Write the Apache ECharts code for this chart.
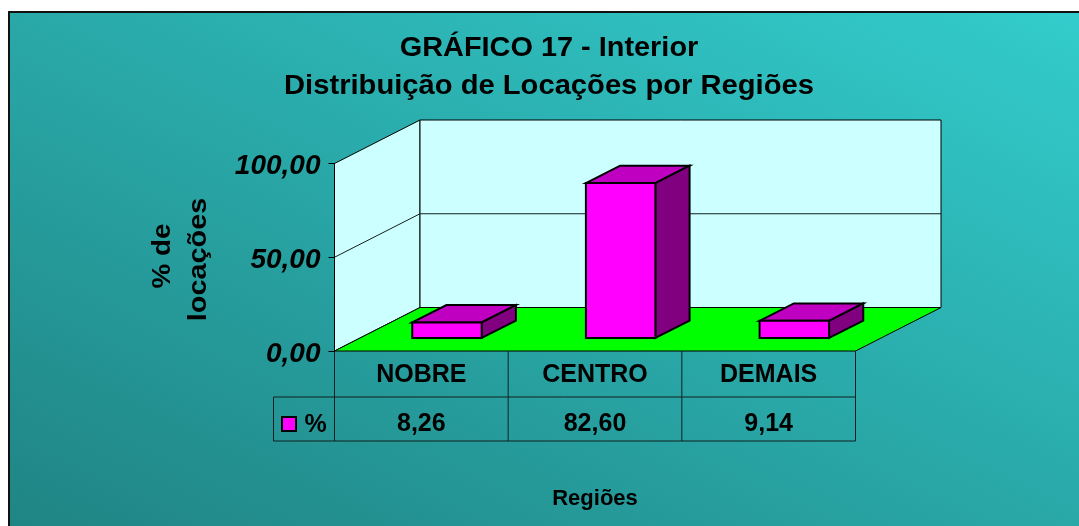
<!DOCTYPE html>
<html>
<head>
<meta charset="utf-8">
<title>GRÁFICO 17 - Interior</title>
<style>
	html, body { margin: 0; padding: 0; background: #fff; }
	#main { width: 1079px; height: 526px; }
</style>
<script src="https://cdn.jsdelivr.net/npm/echarts@6/dist/echarts.min.js"></script>
</head>
<body>
<div id="main"></div>
<script>
var categories = ['NOBRE', 'CENTRO', 'DEMAIS'];
var percentValues = [8.26, 82.60, 9.14];
var valueTicks = [0, 50, 100];
var seriesName = '%';
var titleLines = ['GRÁFICO 17 - Interior', 'Distribuição de Locações por Regiões'];
var yAxisTitleLines = ['% de', 'locações'];
var xAxisTitle = 'Regiões';

// depth of the floor as drawn by the old 3D chart
var DEPTH_X = 85.5;
var DEPTH_Y = -43.5;
var FONT = '"Liberation Sans", Arial, sans-serif';

function fmt(v) {
	return v.toFixed(2).replace('.', ',');
}

var chart = echarts.init(document.getElementById('main'));

function poly(points, fill, lineWidth) {
	return {
		type: 'polygon',
		shape: { points: points },
		style: { fill: fill, stroke: '#000', lineWidth: lineWidth, lineJoin: 'miter' }
	};
}

function line(x1, y1, x2, y2, color) {
	return {
		type: 'line',
		shape: { x1: x1, y1: y1, x2: x2, y2: y2 },
		style: { stroke: color || '#102020', lineWidth: 1 }
	};
}

function renderWalls(params, api) {
	var c = params.coordSys;
	var left = c.x, right = c.x + c.width;
	var y0 = api.coord([0, 0])[1];
	var y1 = api.coord([0, valueTicks[valueTicks.length - 1]])[1];
	var kids = [
		poly([[left, y0], [left, y1], [left + DEPTH_X, y1 + DEPTH_Y], [left + DEPTH_X, y0 + DEPTH_Y]], '#ccffff', 1),
		poly([[left + DEPTH_X, y0 + DEPTH_Y], [left + DEPTH_X, y1 + DEPTH_Y], [right + DEPTH_X, y1 + DEPTH_Y], [right + DEPTH_X, y0 + DEPTH_Y]], '#ccffff', 1),
		poly([[left, y0], [left + DEPTH_X, y0 + DEPTH_Y], [right + DEPTH_X, y0 + DEPTH_Y], [right, y0]], '#00ff00', 1)
	];
	for (var i = 1; i < valueTicks.length - 1; i++) {
		var y = api.coord([0, valueTicks[i]])[1];
		kids.push(line(left, y, left + DEPTH_X, y + DEPTH_Y));
		kids.push(line(left + DEPTH_X, y + DEPTH_Y, right + DEPTH_X, y + DEPTH_Y));
	}
	return { type: 'group', children: kids };
}

function renderBar(params, api) {
	var cat = api.value(0);
	var base = api.coord([cat, 0]);
	var top = api.coord([cat, api.value(1)]);
	var w = api.size([1, 0])[0] * 0.4;
	var fx = DEPTH_X * 0.3, fy = DEPTH_Y * 0.3;
	var bx = DEPTH_X * 0.4, by = DEPTH_Y * 0.4;
	var x0 = base[0] - w / 2 + fx, x1 = x0 + w;
	var yb = base[1] + fy, yt = top[1] + fy;
	return {
		type: 'group',
		children: [
			poly([[x0, yt], [x0 + bx, yt + by], [x1 + bx, yt + by], [x1, yt]], '#c000c0', 2),
			poly([[x1, yt], [x1 + bx, yt + by], [x1 + bx, yb + by], [x1, yb]], '#800080', 2),
			poly([[x0, yb], [x0, yt], [x1, yt], [x1, yb]], '#ff00ff', 2)
		]
	};
}

function renderTable(params, api) {
	var c = params.coordSys;
	var left = c.x, right = c.x + c.width, y0 = c.y + c.height;
	var band = c.width / categories.length;
	var rowA = y0 + 46, rowB = y0 + 90, headLeft = left - 61;
	var kids = [
		line(left, y0, left, rowB),
		line(right, y0, right, rowB),
		line(headLeft, rowA, right, rowA),
		line(headLeft, rowB, right, rowB),
		line(headLeft, rowA, headLeft, rowB),
		{
			type: 'rect',
			shape: { x: headLeft + 8.5, y: rowA + 20, width: 14, height: 14 },
			style: { fill: '#ff00ff', stroke: '#000', lineWidth: 2 }
		},
		{
			type: 'text',
			style: { x: headLeft + 42, y: rowA + 28, text: seriesName, fill: '#000', font: 'bold 25px ' + FONT, align: 'center', verticalAlign: 'middle' }
		}
	];
	for (var i = 0; i < categories.length; i++) {
		if (i > 0) {
			kids.push(line(left + band * i, y0, left + band * i, rowB));
		}
		kids.push({
			type: 'text',
			style: {
				x: api.coord([i, 0])[0],
				y: rowA + 27,
				text: fmt(percentValues[i]),
				fill: '#000',
				font: 'bold 25px ' + FONT,
				align: 'center',
				verticalAlign: 'middle'
			}
		});
	}
	return { type: 'group', children: kids };
}

function wideText(text, x, y, size, scale, rotation) {
	return {
		type: 'text',
		z: 10,
		x: x,
		y: y,
		scaleX: scale,
		rotation: rotation || 0,
		style: {
			text: text,
			fill: '#000',
			font: 'bold ' + size + 'px ' + FONT,
			align: 'center',
			verticalAlign: 'middle'
		}
	};
}

var option = {
	animation: false,
	graphic: [{
		type: 'rect',
		z: -10,
		shape: { x: 9, y: 12, width: 1200, height: 700 },
		style: {
			stroke: '#111',
			lineWidth: 2,
			fill: new echarts.graphic.LinearGradient(340, 686, 740, -150, [
				{ offset: 0, color: '#208484' },
				{ offset: 1, color: '#33cccc' }
			], true)
		}
	},
	wideText(titleLines[0], 549, 49, 27, 1.07),
	wideText(titleLines[1], 549, 86.5, 27, 1.08),
	wideText(yAxisTitleLines[0], 162.5, 256, 26, 1.07, Math.PI / 2),
	wideText(yAxisTitleLines[1], 198.5, 259.5, 26, 1.11, Math.PI / 2)
	],
	grid: { left: 334.5, top: 163.5, width: 521, height: 187.5 },
	xAxis: {
		type: 'category',
		data: categories,
		axisLine: { show: false },
		axisTick: { show: false },
		axisLabel: { color: '#000', fontFamily: FONT, fontWeight: 'bold', fontSize: 25, margin: 12 },
		name: xAxisTitle,
		nameLocation: 'middle',
		nameGap: 137,
		nameTextStyle: { color: '#000', fontFamily: FONT, fontWeight: 'bold', fontSize: 22 }
	},
	yAxis: {
		type: 'value',
		min: 0,
		max: 100,
		interval: 50,
		z: 5,
		splitLine: { show: false },
		axisLine: { show: true, lineStyle: { color: '#000', width: 1 } },
		axisTick: { show: true, length: 6, lineStyle: { color: '#000' } },
		axisLabel: {
			margin: 14,
			formatter: function(v) { return '{v|' + fmt(v) + '}'; },
			rich: {
				v: {
					color: '#000',
					fontFamily: FONT,
					fontStyle: 'italic',
					fontWeight: 'bold',
					fontSize: 28,
					padding: [6, 0, 0, 0]
				}
			}
		}
	},
	series: [{
		type: 'custom',
		name: 'walls',
		z: 1,
		silent: true,
		renderItem: renderWalls,
		data: [[0, 0]],
		encode: { x: 0, y: 1 }
	}, {
		type: 'custom',
		name: seriesName,
		z: 3,
		renderItem: renderBar,
		data: percentValues.map(function(v, i) { return [i, v]; }),
		encode: { x: 0, y: 1 }
	}, {
		type: 'custom',
		name: 'table',
		z: 4,
		silent: true,
		renderItem: renderTable,
		data: [[0, 0]],
		encode: { x: 0, y: 1 }
	}]
};

chart.setOption(option);
</script>
</body>
</html>
